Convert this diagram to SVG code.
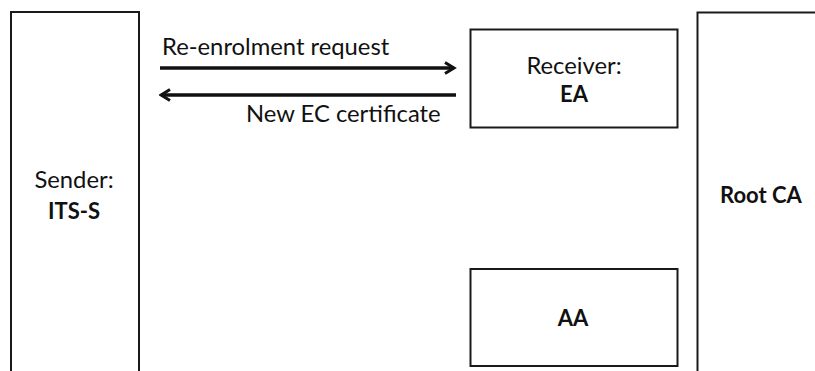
<svg xmlns="http://www.w3.org/2000/svg" width="815" height="371" viewBox="0 0 815 371">
  <style>
    .box { fill: #fff; stroke: #1a1a1a; stroke-width: 2; }
    .lbl { font-family: Lato, "Open Sans", "Liberation Sans", sans-serif; font-size: 23.8px; fill: #111; }
    .b { font-weight: bold; font-size: 22px; }
    .c { text-anchor: middle; }
    .msg { stroke: #111; stroke-width: 3.4; fill: none; }
  </style>
  <defs>
    <marker id="head" viewBox="0 0 14 14" refX="11.5" refY="7" markerWidth="14" markerHeight="14" markerUnits="userSpaceOnUse" orient="auto-start-reverse">
      <path d="M2.5,1.5 L11.5,7 L2.5,12.5" fill="none" stroke="#111" stroke-width="3" stroke-linejoin="miter"/>
    </marker>
  </defs>
  <rect width="815" height="371" fill="#fff"/>

  <g id="sender">
    <rect class="box" x="11" y="12" width="128" height="370"/>
    <text class="lbl c" x="74" y="188">Sender:</text>
    <text class="lbl b c" x="74" y="219">ITS-S</text>
  </g>

  <g id="ea">
    <rect class="box" x="470.5" y="29.5" width="207" height="98"/>
    <text class="lbl c" x="574" y="74">Receiver:</text>
    <text class="lbl b c" x="574" y="102">EA</text>
  </g>

  <g id="aa">
    <rect class="box" x="470.5" y="269" width="207" height="97"/>
    <text class="lbl b c" x="573" y="326">AA</text>
  </g>

  <g id="rootca">
    <rect class="box" x="697.5" y="12.5" width="130" height="370"/>
    <text class="lbl b" x="720" y="203">Root CA</text>
  </g>

  <g id="connectors">
    <line class="msg" x1="160" y1="68" x2="454" y2="68" marker-end="url(#head)"/>
    <text class="lbl" x="162" y="55">Re-enrolment request</text>
    <line class="msg" x1="456" y1="95" x2="161" y2="95" marker-end="url(#head)"/>
    <text class="lbl" x="246" y="122">New EC certificate</text>
  </g>
</svg>
